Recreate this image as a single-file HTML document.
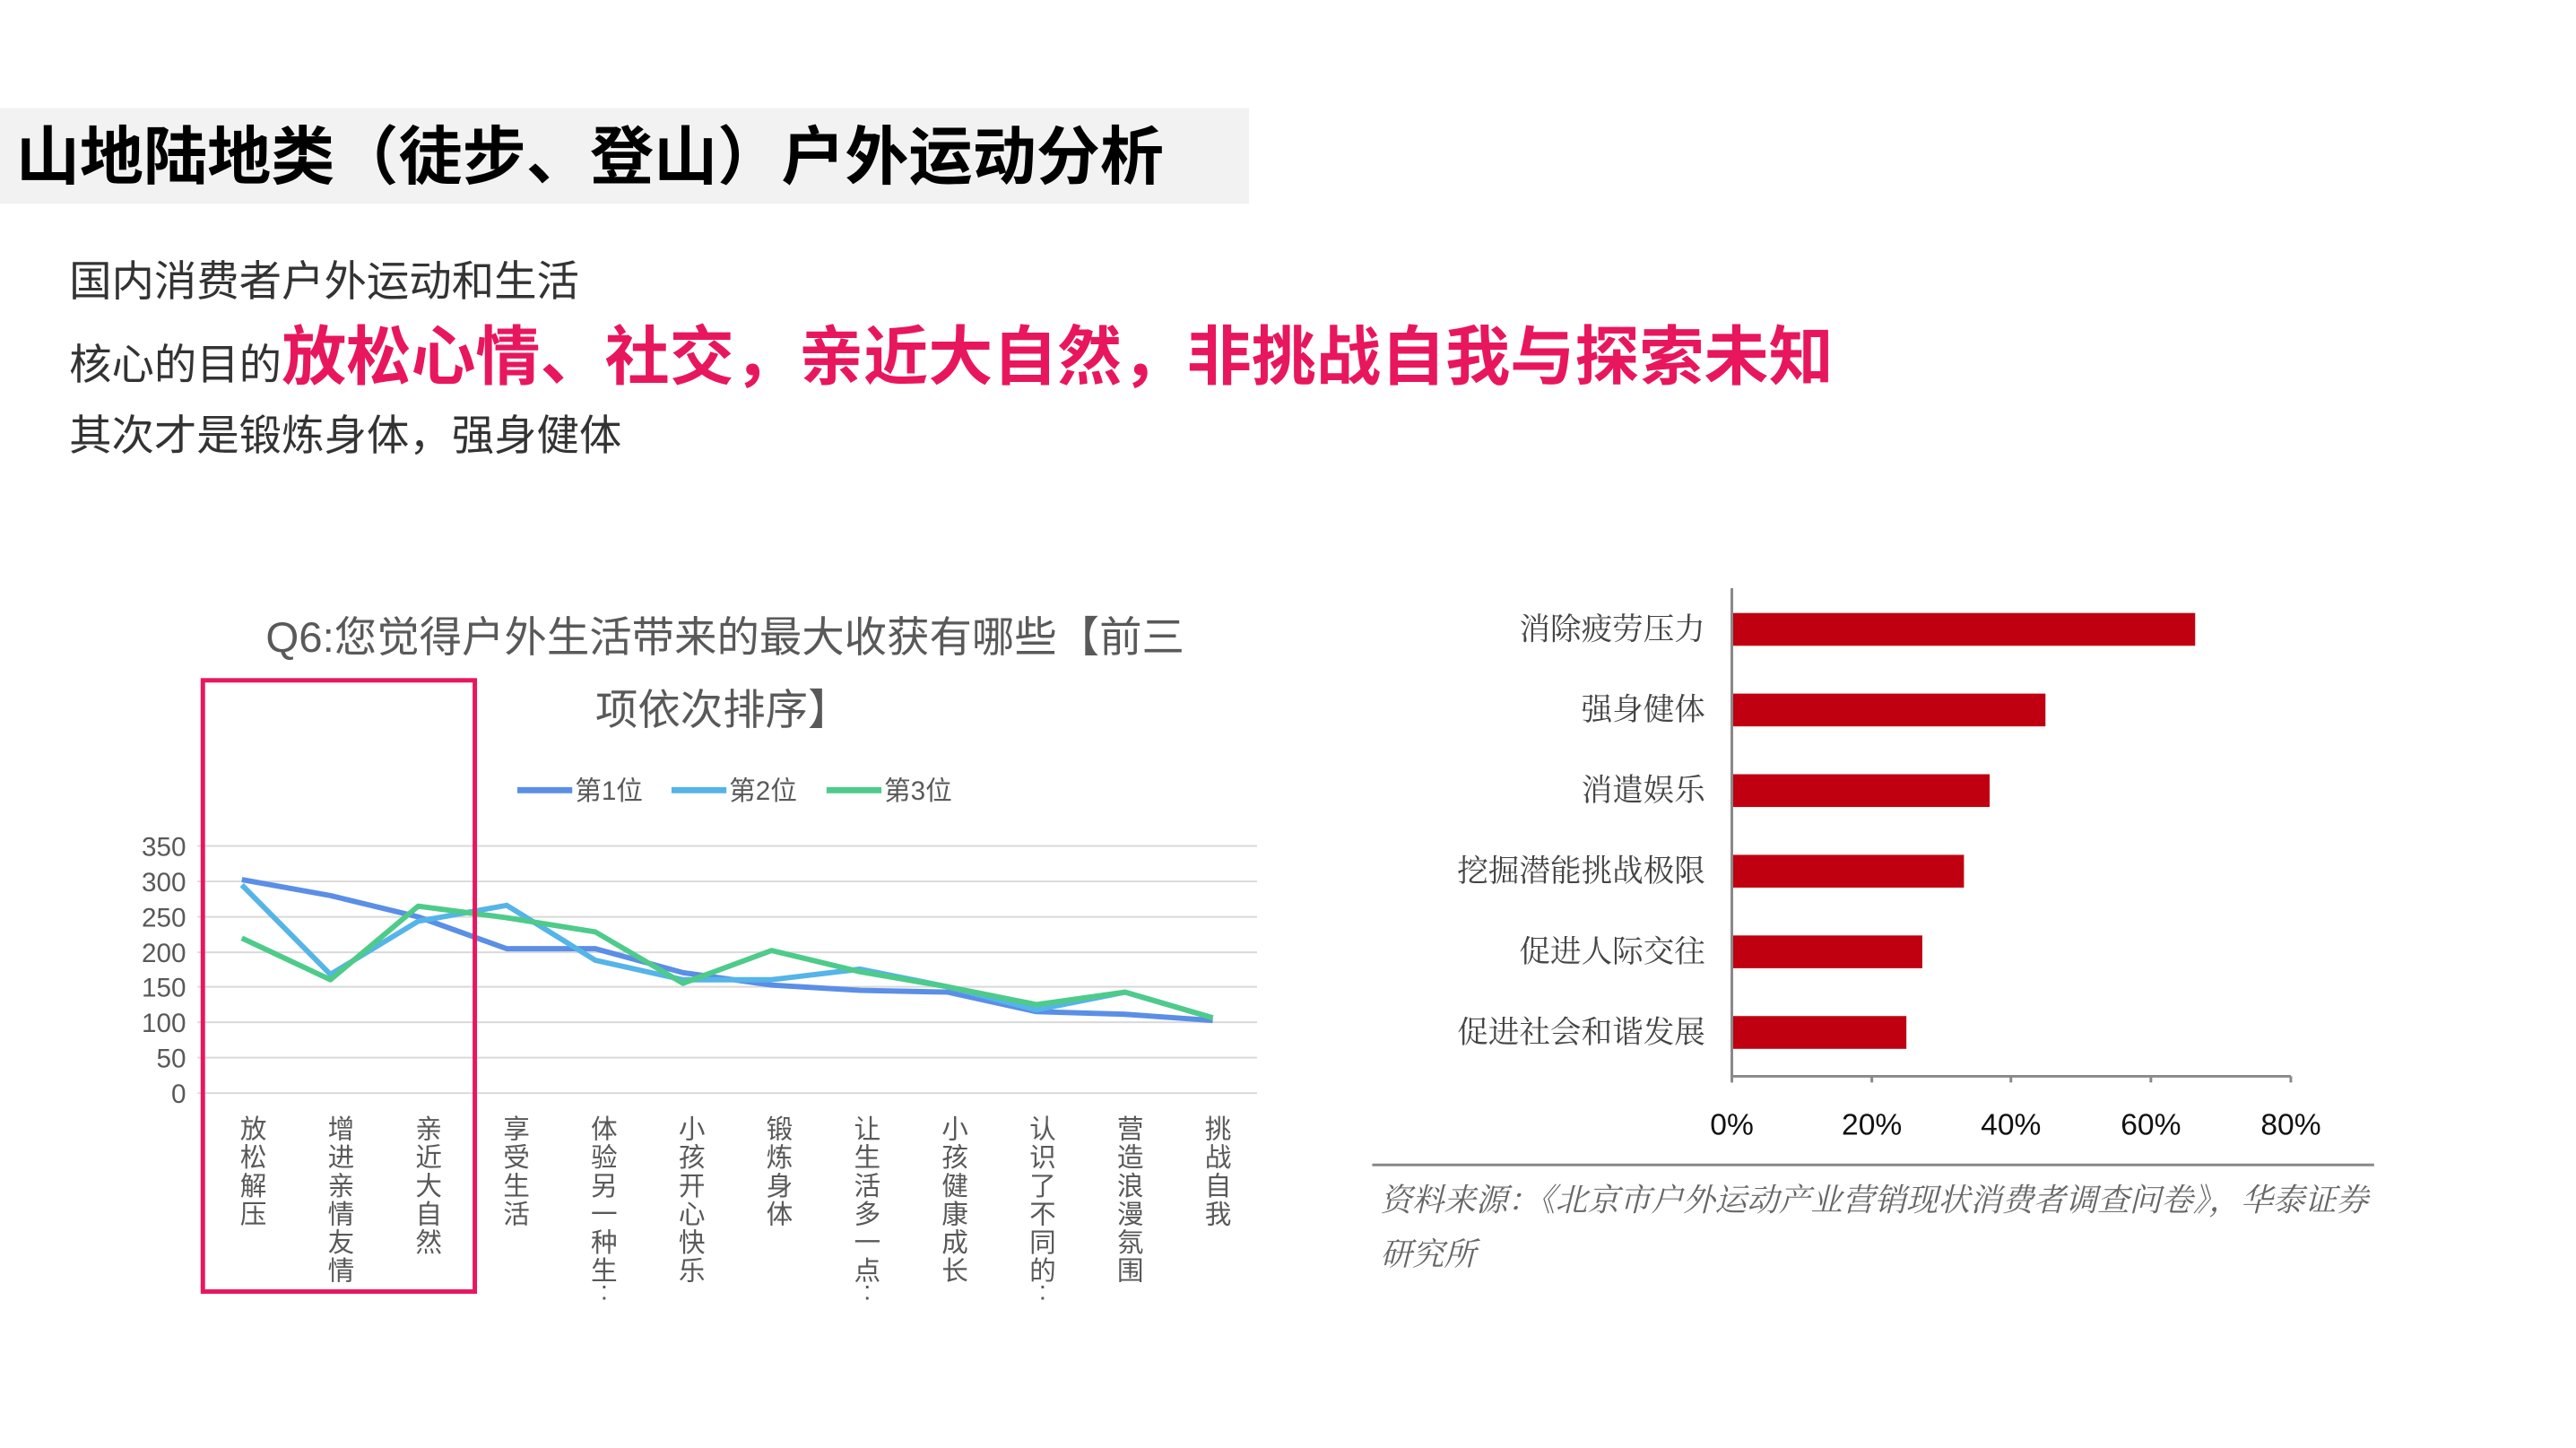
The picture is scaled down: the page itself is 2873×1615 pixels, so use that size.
<!DOCTYPE html>
<html><head><meta charset="utf-8"><style>
html,body{margin:0;padding:0;background:#fff}
svg{display:block}
.s{font-family:"Liberation Sans","Noto Sans CJK SC",sans-serif}
.sf{font-family:"Liberation Serif","Noto Serif CJK SC",serif}
</style></head><body>
<svg width="2873" height="1615" viewBox="0 0 2873 1615" xmlns="http://www.w3.org/2000/svg">
<g transform="scale(0.988)">
<rect x="0" y="122" width="1410" height="108" fill="#f2f2f2"/>
<text class="s" x="18" y="202" font-size="72" font-weight="bold" fill="#000">山地陆地类（徒步、登山）户外运动分析</text>
<text class="s" x="78" y="334" font-size="48" fill="#333">国内消费者户外运动和生活</text>
<text class="s" x="78" y="428" font-size="48" fill="#333">核心的目的<tspan font-size="73" font-weight="bold" fill="#e8175d">放松心情、社交，亲近大自然，非挑战自我与探索未知</tspan></text>
<text class="s" x="78" y="508" font-size="48" fill="#333">其次才是锻炼身体，强身健体</text>

<text class="s" x="300" y="736" font-size="48" fill="#595959">Q6:您觉得户外生活带来的最大收获有哪些【前三</text>
<text class="s" x="816" y="818" font-size="48" fill="#595959" text-anchor="middle">项依次排序】</text>
<g class="s" font-size="30" fill="#595959">
<line x1="584" y1="892" x2="646" y2="892" stroke="#5b8ee6" stroke-width="7"/><text x="649" y="903">第1位</text>
<line x1="758" y1="892" x2="820" y2="892" stroke="#55b4e8" stroke-width="7"/><text x="823" y="903">第2位</text>
<line x1="933" y1="892" x2="995" y2="892" stroke="#4ecb8a" stroke-width="7"/><text x="998" y="903">第3位</text>
</g>
<g stroke="#d9d9d9" stroke-width="2">
<line x1="223" y1="955" x2="1419" y2="955"/><line x1="223" y1="995" x2="1419" y2="995"/>
<line x1="223" y1="1035" x2="1419" y2="1035"/><line x1="223" y1="1075" x2="1419" y2="1075"/>
<line x1="223" y1="1114" x2="1419" y2="1114"/><line x1="223" y1="1154" x2="1419" y2="1154"/>
<line x1="223" y1="1194" x2="1419" y2="1194"/><line x1="223" y1="1234" x2="1419" y2="1234"/>
</g>
<g class="s" font-size="30" fill="#595959" text-anchor="end">
<text x="210" y="966">350</text><text x="210" y="1006">300</text><text x="210" y="1046">250</text>
<text x="210" y="1086">200</text><text x="210" y="1125">150</text><text x="210" y="1165">100</text>
<text x="210" y="1205">50</text><text x="210" y="1245">0</text>
</g>
<polyline fill="none" stroke="#5b8ee6" stroke-width="6" stroke-linejoin="round" points="273,993 373,1011 472,1035 572,1071 672,1071 771,1098 871,1112 971,1118 1070,1120 1170,1142 1270,1145 1369,1152"/>
<polyline fill="none" stroke="#55b4e8" stroke-width="6" stroke-linejoin="round" points="273,999 373,1100 472,1040 572,1022 672,1084 771,1106 871,1106 971,1094 1070,1114 1170,1140 1270,1120 1369,1149"/>
<polyline fill="none" stroke="#4ecb8a" stroke-width="6" stroke-linejoin="round" points="273,1059 373,1106 472,1023 572,1036 672,1052 771,1110 871,1073 971,1097 1070,1114 1170,1134 1270,1120 1369,1149"/>
<g class="s" font-size="30" fill="#595959" text-anchor="middle">
<text x="286" y="1285"><tspan x="286" dy="0">放</tspan><tspan x="286" dy="32">松</tspan><tspan x="286" dy="32">解</tspan><tspan x="286" dy="32">压</tspan></text>
<text x="385" y="1285"><tspan x="385" dy="0">增</tspan><tspan x="385" dy="32">进</tspan><tspan x="385" dy="32">亲</tspan><tspan x="385" dy="32">情</tspan><tspan x="385" dy="32">友</tspan><tspan x="385" dy="32">情</tspan></text>
<text x="484" y="1285"><tspan x="484" dy="0">亲</tspan><tspan x="484" dy="32">近</tspan><tspan x="484" dy="32">大</tspan><tspan x="484" dy="32">自</tspan><tspan x="484" dy="32">然</tspan></text>
<text x="583" y="1285"><tspan x="583" dy="0">享</tspan><tspan x="583" dy="32">受</tspan><tspan x="583" dy="32">生</tspan><tspan x="583" dy="32">活</tspan></text>
<text x="682" y="1285"><tspan x="682" dy="0">体</tspan><tspan x="682" dy="32">验</tspan><tspan x="682" dy="32">另</tspan><tspan x="682" dy="32">一</tspan><tspan x="682" dy="32">种</tspan><tspan x="682" dy="32">生</tspan><tspan x="682" dy="22">:</tspan></text>
<text x="781" y="1285"><tspan x="781" dy="0">小</tspan><tspan x="781" dy="32">孩</tspan><tspan x="781" dy="32">开</tspan><tspan x="781" dy="32">心</tspan><tspan x="781" dy="32">快</tspan><tspan x="781" dy="32">乐</tspan></text>
<text x="880" y="1285"><tspan x="880" dy="0">锻</tspan><tspan x="880" dy="32">炼</tspan><tspan x="880" dy="32">身</tspan><tspan x="880" dy="32">体</tspan></text>
<text x="979" y="1285"><tspan x="979" dy="0">让</tspan><tspan x="979" dy="32">生</tspan><tspan x="979" dy="32">活</tspan><tspan x="979" dy="32">多</tspan><tspan x="979" dy="32">一</tspan><tspan x="979" dy="32">点</tspan><tspan x="979" dy="22">:</tspan></text>
<text x="1078" y="1285"><tspan x="1078" dy="0">小</tspan><tspan x="1078" dy="32">孩</tspan><tspan x="1078" dy="32">健</tspan><tspan x="1078" dy="32">康</tspan><tspan x="1078" dy="32">成</tspan><tspan x="1078" dy="32">长</tspan></text>
<text x="1177" y="1285"><tspan x="1177" dy="0">认</tspan><tspan x="1177" dy="32">识</tspan><tspan x="1177" dy="32">了</tspan><tspan x="1177" dy="32">不</tspan><tspan x="1177" dy="32">同</tspan><tspan x="1177" dy="32">的</tspan><tspan x="1177" dy="22">:</tspan></text>
<text x="1276" y="1285"><tspan x="1276" dy="0">营</tspan><tspan x="1276" dy="32">造</tspan><tspan x="1276" dy="32">浪</tspan><tspan x="1276" dy="32">漫</tspan><tspan x="1276" dy="32">氛</tspan><tspan x="1276" dy="32">围</tspan></text>
<text x="1375" y="1285"><tspan x="1375" dy="0">挑</tspan><tspan x="1375" dy="32">战</tspan><tspan x="1375" dy="32">自</tspan><tspan x="1375" dy="32">我</tspan></text>
</g>
<rect x="229" y="768" width="307" height="690" fill="none" stroke="#e8175d" stroke-width="5"/>

<g fill="#c00010">
<rect x="1955" y="692" width="523" height="37"/>
<rect x="1955" y="783" width="354" height="37"/>
<rect x="1955" y="874" width="291" height="37"/>
<rect x="1955" y="965" width="262" height="37"/>
<rect x="1955" y="1056" width="215" height="37"/>
<rect x="1955" y="1147" width="197" height="37"/>
</g>
<g stroke="#888" stroke-width="3">
<line x1="1955" y1="664" x2="1955" y2="1222"/>
<line x1="1955" y1="1215" x2="2586" y2="1215"/>
<line x1="2113" y1="1215" x2="2113" y2="1222"/><line x1="2270" y1="1215" x2="2270" y2="1222"/>
<line x1="2428" y1="1215" x2="2428" y2="1222"/><line x1="2586" y1="1215" x2="2586" y2="1222"/>
</g>
<g class="sf" font-size="35" fill="#444" text-anchor="end">
<text x="1925" y="722">消除疲劳压力</text><text x="1925" y="813">强身健体</text>
<text x="1925" y="904">消遣娱乐</text><text x="1925" y="995">挖掘潜能挑战极限</text>
<text x="1925" y="1086">促进人际交往</text><text x="1925" y="1177">促进社会和谐发展</text>
</g>
<g class="s" font-size="34" fill="#111" text-anchor="middle">
<text x="1955" y="1281">0%</text><text x="2113" y="1281">20%</text><text x="2270" y="1281">40%</text>
<text x="2428" y="1281">60%</text><text x="2586" y="1281">80%</text>
</g>
<line x1="1549" y1="1315" x2="2680" y2="1315" stroke="#888" stroke-width="3"/>
<g class="sf" font-size="36" fill="#666" font-style="italic">
<text x="1558" y="1367">资料来源：《北京市户外运动产业营销现状消费者调查问卷》，华泰证券</text>
<text x="1558" y="1428">研究所</text>
</g>
</g>
</svg>
</body></html>
